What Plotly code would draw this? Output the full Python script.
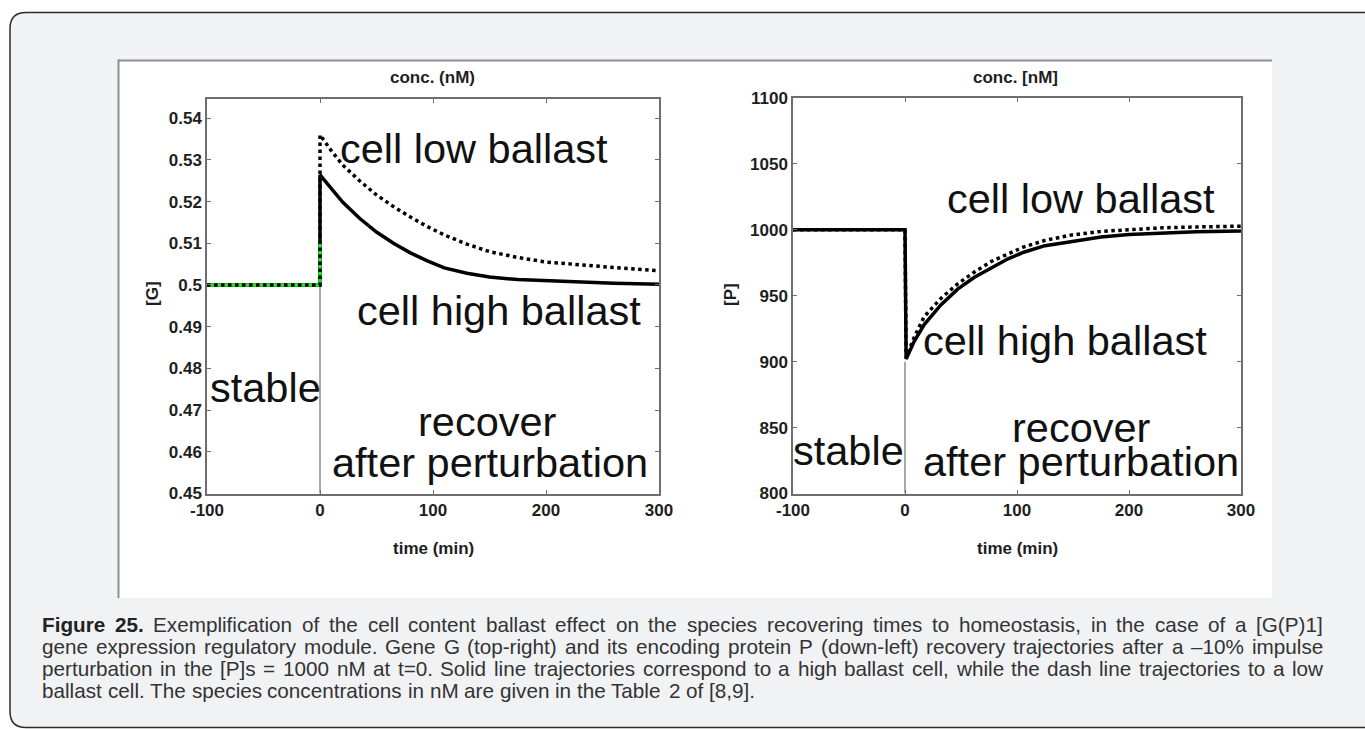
import plotly.graph_objects as go

W, H = 1365, 729

# ---------------- data ----------------
# Left panel: gene G concentration (nM) vs time (min)
t_g_high = [-100, 0, 0, 10, 20, 35, 50, 65, 80, 95, 110, 130, 150, 175, 200, 230, 260, 300]
g_high = [0.5, 0.5, 0.5264, 0.5230, 0.5199, 0.5160, 0.5127, 0.5100, 0.5077, 0.5058, 0.5041,
          0.5028, 0.5019, 0.5013, 0.5010, 0.5007, 0.5004, 0.5002]
t_g_low = [-100, 0, 0, 10, 20, 35, 50, 65, 80, 95, 110, 130, 150, 175, 200, 230, 260, 300]
g_low = [0.5, 0.5, 0.536, 0.5322, 0.5288, 0.5250, 0.5216, 0.5188, 0.5163, 0.5140, 0.5120,
         0.5098, 0.5080, 0.5066, 0.5055, 0.5048, 0.5042, 0.5034]
t_g_stable = [-100, 0, 0]
g_stable = [0.5, 0.5, 0.51]
t_g_marker = [0, 0]
g_marker = [0.45, 0.5]

# Right panel: protein P concentration (nM) vs time (min)
t_p_high = [-100, 0, 1, 8, 17, 32, 47, 62, 77, 92, 106, 125, 148, 175, 200, 229, 260, 300]
p_high = [1000, 1000, 902, 915, 928, 943, 955, 964, 971, 978, 983, 988, 991, 994.5, 996.5,
          997.8, 998.6, 999.2]
t_p_low = [-100, 0, 1, 8, 17, 32, 47, 62, 77, 92, 106, 125, 148, 175, 200, 229, 260, 300]
p_low = [1000, 1000, 903, 918, 934, 948, 959, 968, 976, 982, 987, 992, 996, 998.8, 1000.3,
         1001.5, 1002.2, 1002.8]
t_p_marker = [0, 0]
p_marker = [800, 900]

x_ticks = [-100, 0, 100, 200, 300]
x_tick_labels = ["-100", "0", "100", "200", "300"]
g_ticks = [0.45, 0.46, 0.47, 0.48, 0.49, 0.5, 0.51, 0.52, 0.53, 0.54]
g_tick_labels = ["0.45", "0.46", "0.47", "0.48", "0.49", "0.5", "0.51", "0.52", "0.53", "0.54"]
p_ticks = [800, 850, 900, 950, 1000, 1050, 1100]
p_tick_labels = ["800", "850", "900", "950", "1000", "1050", "1100"]

caption_lines = [
    "Figure 25. Exemplification of the cell content ballast effect on the species recovering times to homeostasis, in the case of a [G(P)1]",
    "gene expression regulatory module. Gene G (top-right) and its encoding protein P (down-left) recovery trajectories after a \u201310% impulse",
    "perturbation in the [P]s = 1000 nM at t=0. Solid line trajectories correspond to a high ballast cell, while the dash line trajectories to a low",
    "ballast cell. The species concentrations in nM are given in the Table 2 of [8,9].",
]
caption_justify = [True, True, True, False]

# ---------------- helpers ----------------
def fx(px):
    return px / W

def fy(py):
    return 1 - py / H

FONT = "Liberation Sans, Arial, sans-serif"

# Arial (Liberation Sans) advance widths, 1/1000 em
REG = {' ': 278, '!': 278, '%': 889, '(': 333, ')': 333, ',': 278, '-': 333, '.': 278,
       '=': 584, '[': 278, ']': 278, '\u2013': 556, ':': 278,
       'A': 667, 'B': 667, 'C': 722, 'D': 722, 'E': 667, 'F': 611, 'G': 778, 'H': 722,
       'I': 278, 'J': 500, 'K': 667, 'L': 556, 'M': 833, 'N': 722, 'O': 778, 'P': 667,
       'Q': 778, 'R': 722, 'S': 667, 'T': 611, 'U': 722, 'V': 667, 'W': 944, 'X': 667,
       'Y': 667, 'Z': 611,
       'a': 556, 'b': 556, 'c': 500, 'd': 556, 'e': 556, 'f': 278, 'g': 556, 'h': 556,
       'i': 222, 'j': 222, 'k': 500, 'l': 222, 'm': 833, 'n': 556, 'o': 556, 'p': 556,
       'q': 556, 'r': 333, 's': 500, 't': 278, 'u': 556, 'v': 500, 'w': 722, 'x': 500,
       'y': 500, 'z': 500}
for d in "0123456789":
    REG[d] = 556
BOLD = dict(REG)
BOLD.update({'F': 611, 'i': 278, 'g': 611, 'u': 611, 'r': 389, 'e': 556})

def word_w(word, size, bold=False):
    tbl = BOLD if bold else REG
    return sum(tbl.get(c, 556) for c in word) * size / 1000.0

# ---------------- figure ----------------
fig = go.Figure()

# left panel traces
fig.add_trace(go.Scatter(x=t_g_marker, y=g_marker, mode="lines",
                         line=dict(color="#8c8c8c", width=1.5), xaxis="x", yaxis="y",
                         hoverinfo="skip"))
fig.add_trace(go.Scatter(x=t_g_high, y=g_high, mode="lines", name="cell high ballast",
                         line=dict(color="black", width=3.5), xaxis="x", yaxis="y"))
fig.add_trace(go.Scatter(x=t_g_stable, y=g_stable, mode="lines", name="stable",
                         line=dict(color="#1ee81e", width=3.5), xaxis="x", yaxis="y"))
fig.add_trace(go.Scatter(x=t_g_low, y=g_low, mode="lines", name="cell low ballast",
                         line=dict(color="black", width=3.5, dash="dot"), xaxis="x", yaxis="y"))

# right panel traces
fig.add_trace(go.Scatter(x=t_p_marker, y=p_marker, mode="lines",
                         line=dict(color="#8c8c8c", width=1.5), xaxis="x2", yaxis="y2",
                         hoverinfo="skip"))
fig.add_trace(go.Scatter(x=t_p_high, y=p_high, mode="lines", name="cell high ballast",
                         line=dict(color="black", width=3.5), xaxis="x2", yaxis="y2"))
fig.add_trace(go.Scatter(x=t_p_low, y=p_low, mode="lines", name="cell low ballast",
                         line=dict(color="black", width=3.5, dash="dot"), xaxis="x2", yaxis="y2"))

tickfont = dict(family=FONT, size=17, color="#1e1e1e")
axis_common = dict(showline=True, linecolor="#6e6e6e", linewidth=1.5, mirror="ticks",
                   ticks="inside", ticklen=4, tickcolor="#6e6e6e", tickwidth=1,
                   showgrid=False, zeroline=False, automargin=False, tickfont=tickfont,
                   fixedrange=True)

fig.update_layout(
    width=W, height=H,
    margin=dict(l=0, r=0, t=0, b=0),
    paper_bgcolor="white",
    plot_bgcolor="rgba(0,0,0,0)",
    showlegend=False,
    xaxis=dict(domain=[fx(207), fx(659)], range=[-100, 300], anchor="y",
               tickvals=x_ticks, ticktext=["<b>%s</b>" % s for s in x_tick_labels], **axis_common),
    yaxis=dict(domain=[fy(493.5), fy(99)], range=[0.45, 0.5446], anchor="x",
               tickvals=g_ticks, ticktext=["<b>%s</b>" % s for s in g_tick_labels], **axis_common),
    xaxis2=dict(domain=[fx(793), fx(1241)], range=[-100, 300], anchor="y2",
                tickvals=x_ticks, ticktext=["<b>%s</b>" % s for s in x_tick_labels], **axis_common),
    yaxis2=dict(domain=[fy(493.5), fy(98)], range=[800, 1100], anchor="x2",
                tickvals=p_ticks, ticktext=["<b>%s</b>" % s for s in p_tick_labels], **axis_common),
)

# ---------------- background shapes ----------------
def rounded_box(x0, y0, x1, y1, r):
    rx, ry = r / W, r / H
    X0, X1, Y0, Y1 = fx(x0), fx(x1), fy(y0), fy(y1)
    return (f"M {X0+rx},{Y0} L {X1-rx},{Y0} Q {X1},{Y0} {X1},{Y0-ry} "
            f"L {X1},{Y1+ry} Q {X1},{Y1} {X1-rx},{Y1} L {X0+rx},{Y1} "
            f"Q {X0},{Y1} {X0},{Y1+ry} L {X0},{Y0-ry} Q {X0},{Y0} {X0+rx},{Y0} Z")

shapes = [
    dict(type="path", xref="paper", yref="paper", path=rounded_box(10, 12.5, 1380, 727.5, 16),
         fillcolor="#f1f2f4", line=dict(color="#2b2b2b", width=1.5), layer="below"),
    dict(type="rect", xref="paper", yref="paper", x0=fx(118), x1=fx(1272), y0=fy(598), y1=fy(60),
         fillcolor="white", line=dict(width=0), layer="below"),
    dict(type="line", xref="paper", yref="paper", x0=fx(118), x1=fx(1272), y0=fy(60.5), y1=fy(60.5),
         line=dict(color="#8f8f8f", width=2), layer="below"),
    dict(type="line", xref="paper", yref="paper", x0=fx(118.5), x1=fx(118.5), y0=fy(59.5), y1=fy(598),
         line=dict(color="#8f8f8f", width=2), layer="below"),
]
fig.update_layout(shapes=shapes)

# ---------------- annotations ----------------
ann = []
bold18 = dict(family=FONT, size=17, color="#1e1e1e")

def paper_text(text, px, py, font, angle=0, xanchor="center"):
    ann.append(dict(text=text, x=fx(px), y=fy(py), xref="paper", yref="paper",
                    showarrow=False, font=font, textangle=angle, xanchor=xanchor,
                    yanchor="middle", borderpad=0, borderwidth=0))

paper_text("<b>conc. (nM)</b>", 432.5, 78, bold18)
paper_text("<b>conc. [nM]</b>", 1015, 78, bold18)
paper_text("<b>time (min)</b>", 433, 548, bold18)
paper_text("<b>time (min)</b>", 1017, 548, bold18)
paper_text("<b>[G]</b>", 153, 294, bold18, angle=-90)
paper_text("<b>[P]</b>", 730, 295, bold18, angle=-90)

big = dict(family=FONT, size=41.5, color="#111111")

def data_text(text, x, y, xref, yref):
    ann.append(dict(text=text, x=x, y=y, xref=xref, yref=yref, showarrow=False, font=big,
                    xanchor="left", yanchor="middle", borderpad=0, borderwidth=0))

data_text("cell low ballast", 17.7, 0.5328, "x", "y")
data_text("cell high ballast", 32.7, 0.4938, "x", "y")
data_text("stable", -97.3, 0.4753, "x", "y")
data_text("recover", 86.7, 0.4672, "x", "y")
data_text("after perturbation", 10.6, 0.4574, "x", "y")

data_text("cell low ballast", 37.5, 1023.5, "x2", "y2")
data_text("cell high ballast", 16.1, 915.9, "x2", "y2")
data_text("stable", -100, 832.6, "x2", "y2")
data_text("recover", 95.5, 850, "x2", "y2")
data_text("after perturbation", 16.1, 824.2, "x2", "y2")

# caption, justified word by word
CAP_SIZE = 20.7
CAP_LEFT, CAP_RIGHT = 42, 1323
cap_ys = [624, 646, 668, 690]
for li, line in enumerate(caption_lines):
    words = line.split(" ")
    bolds = [li == 0 and wi < 2 for wi in range(len(words))]
    widths = [word_w(w, CAP_SIZE, b) for w, b in zip(words, bolds)]
    if caption_justify[li]:
        gap = (CAP_RIGHT - CAP_LEFT - sum(widths)) / (len(words) - 1)
    else:
        gap = REG[' '] * CAP_SIZE / 1000.0
    x = CAP_LEFT
    for w, b, ww in zip(words, bolds, widths):
        txt = "<b>%s</b>" % w if b else w
        col = "#222222" if b else "#333333"
        ann.append(dict(text=txt, x=fx(x), y=fy(cap_ys[li]), xref="paper", yref="paper",
                        showarrow=False, xanchor="left", yanchor="middle",
                        font=dict(family=FONT, size=CAP_SIZE, color=col),
                        borderpad=0, borderwidth=0))
        x += ww + gap

fig.update_layout(annotations=ann)

fig.write_html("out.html", config={"displayModeBar": False})
